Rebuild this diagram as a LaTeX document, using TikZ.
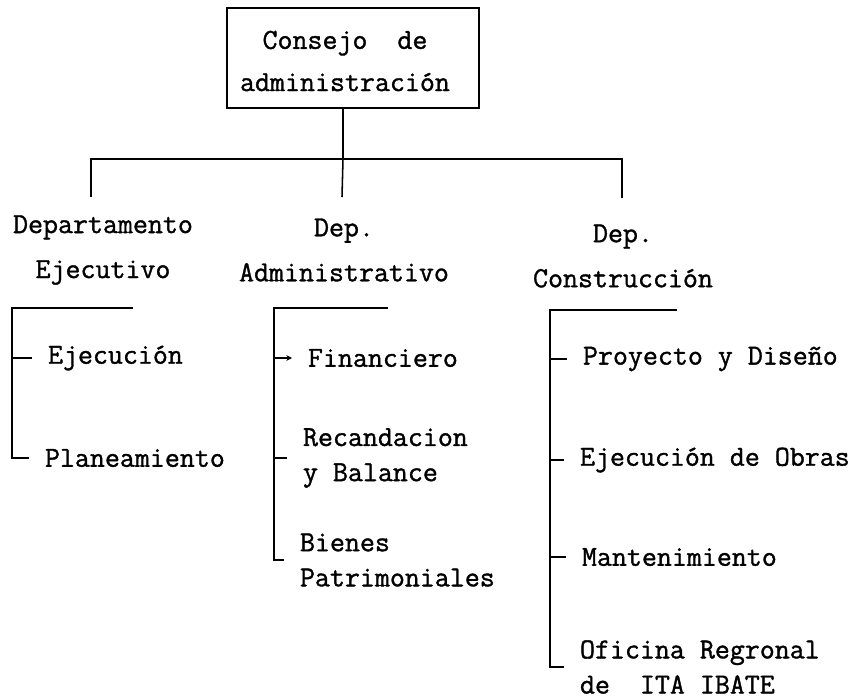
\documentclass[tikz,border=0pt]{standalone}
\usepackage{fontspec}
\setmainfont{Latin Modern Mono}[FakeBold=1.2]
\usetikzlibrary{positioning}
\usetikzlibrary{arrows.meta}
\newcommand{\boardwidth}{63mm}
\newcommand{\boardheight}{25mm}
\newcommand{\tickgap}{4mm}

\begin{document}
\begin{tikzpicture}[x=0.25mm, y=-0.25mm, outer sep=0pt, line width=1.1pt]
\tikzstyle{board}=[
    draw,
    rectangle,
    minimum width=\boardwidth,
    minimum height=\boardheight]
\tikzstyle{boardtext}=[
    align=center,
    inner sep=0pt,
    font=\fontsize{20.7}{30}\selectfont]
\tikzstyle{dept}=[
    align=center,
    inner sep=0pt,
    font=\fontsize{20.7}{32}\selectfont]
\tikzstyle{unit}=[
    align=left,
    anchor=west,
    inner sep=0pt,
    font=\fontsize{20.7}{25}\selectfont]
\useasboundingbox (0,0) rectangle (867,699);

\node[board] (consejo) at (353,58) {};
\node[boardtext] (consejotxt) at (345,61) {Consejo~~de\\administración};

\node[dept] (depejec) at (103,250) {Departamento\\Ejecutivo};
\node[dept] (depadmin) at (344,250) {Dep.\\Administrativo};
\node[dept] (depcons) at (623,256) {Dep.\\Construcción};

\coordinate (bus) at (343,159);
\coordinate (dropA) at (91,197);
\coordinate (dropB) at (342,197);
\coordinate (dropC) at (622,198);
\draw (consejo.south -| bus) -- (bus);
\draw (dropA) |- (bus) -| (dropC);
\draw (bus) -- (dropB);

% Departamento Ejecutivo
\coordinate (brA) at (12,308);
\coordinate (brAend) at (133,308);
\node[unit] (ejec) at (48,358) {Ejecución};
\node[unit] (plan) at (45,458) {Planeamiento};
\draw (brAend) -- (brA) |- ([xshift=-\tickgap]plan.west);
\draw (brA |- ejec.west) -- ([xshift=-\tickgap]ejec.west);

% Dep. Administrativo
\coordinate (brB) at (274,308);
\coordinate (brBend) at (388,308);
\node[unit] (finan) at (308,358) {Financiero};
\node[unit] (recau) at (303,458) {Recandacion\\y Balance};
\node[unit] (bienes) at (300,560) {Bienes\\Patrimoniales};
\draw (brBend) -- (brB) |- ([xshift=-\tickgap]bienes.west);
\draw[-{Stealth[length=4pt,width=4pt]}] (brB |- finan.west) -- ([xshift=-\tickgap]finan.west);
\draw (brB |- recau.west) -- ([xshift=-\tickgap]recau.west);

% Dep. Construccion
\coordinate (brC) at (550,310);
\coordinate (brCend) at (677,310);
\node[unit] (proy) at (583,359) {Proyecto y Diseño};
\node[unit] (obras) at (580,460) {Ejecución de Obras};
\node[unit] (mant) at (582,557) {Mantenimiento};
\node[unit] (ofic) at (580,667) {Oficina Regronal\\de~~ITA IBATE};
\draw (brCend) -- (brC) |- ([xshift=-\tickgap]ofic.west);
\draw (brC |- proy.west) -- ([xshift=-\tickgap]proy.west);
\draw (brC |- obras.west) -- ([xshift=-\tickgap]obras.west);
\draw (brC |- mant.west) -- ([xshift=-\tickgap]mant.west);

\end{tikzpicture}
\end{document}
